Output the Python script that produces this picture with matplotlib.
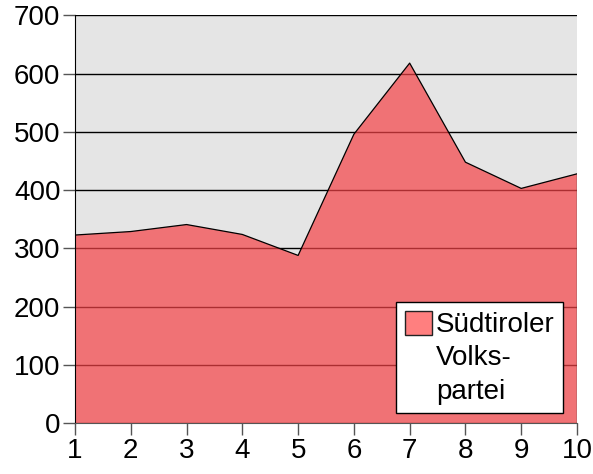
import matplotlib.pyplot as plt
from matplotlib.patches import Patch

plt.rcParams['font.family'] = ['Liberation Sans', 'DejaVu Sans']

positions = [1, 2, 3, 4, 5, 6, 7, 8, 9, 10]
svp_values = [323, 329, 341, 324, 288, 496, 618, 448, 403, 428]
legend_lines = ["Südtiroler", "Volks-", "partei"]
y_ticks = [0, 100, 200, 300, 400, 500, 600, 700]

fig = plt.figure(figsize=(5.93, 4.74), dpi=100)
ax = fig.add_axes([0.1265, 0.107, 0.8465, 0.8607])
ax.set_facecolor('#e5e5e5')

# grid lines under the semi-transparent area
for v in y_ticks:
    ax.axhline(v, color='black', lw=1.0, zorder=1)

ax.fill_between(positions, svp_values, 0, facecolor=(245/255, 66/255, 70/255),
                alpha=0.7, edgecolor='none', zorder=2)
ax.plot(positions, svp_values, color='black', lw=0.9, zorder=3)
ax.plot([10, 10], [0, svp_values[-1]], color='#444444', lw=1.0, zorder=3)

ax.set_xlim(1, 10)
ax.set_ylim(0, 700)
ax.set_xticks(positions)
ax.set_yticks(y_ticks)
ax.tick_params(labelsize=20, length=8.5, width=1, color='#555555',
               direction='out', pad=2)

for s in ['top', 'right']:
    ax.spines[s].set_visible(False)
ax.spines['left'].set_color('black')
ax.spines['bottom'].set_color('#555555')

# legend: swatch next to the first line only
handles = [Patch(facecolor='#ff7f7f', edgecolor='#222222', linewidth=1),
           Patch(facecolor='none', edgecolor='none'),
           Patch(facecolor='none', edgecolor='none')]
leg = ax.legend(handles, legend_lines, loc='lower right', fontsize=20,
                frameon=True, fancybox=False, framealpha=1, edgecolor='black',
                bbox_to_anchor=(0.972, 0.025), borderaxespad=0,
                handlelength=0.97, handleheight=0.97, labelspacing=0.2,
                borderpad=0.3, handletextpad=0.15)
leg.get_frame().set_linewidth(1.0)

fig.savefig('out.png', dpi=100)
